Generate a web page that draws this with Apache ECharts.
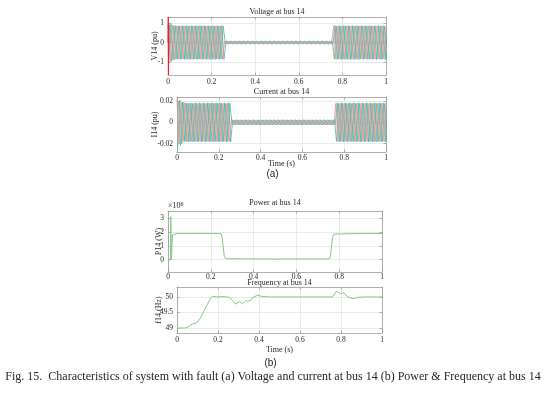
<!DOCTYPE html>
<html>
<head>
<meta charset="utf-8">
<script src="https://cdn.jsdelivr.net/npm/echarts@6/dist/echarts.min.js"></script>
<style>
html,body{margin:0;padding:0;background:#fff;}
#chart{width:544px;height:394px;}
</style>
</head>
<body>
<div id="chart"></div>
<script>
// ---------- DATA ----------
const timeTicks = [0, 0.2, 0.4, 0.6, 0.8, 1];
const timeTickLabels = ['0', '0.2', '0.4', '0.6', '0.8', '1'];

const voltTicks = [-1, 0, 1];
const voltTickLabels = ['-1', '0', '1'];
const currTicks = [-0.02, 0, 0.02];
const currTickLabels = ['-0.02', '0', '0.02'];
const powerTicks = [0, 1, 2, 3];
const powerTickLabels = ['0', '1', '2', '3'];
const freqTicks = [49, 49.5, 50];
const freqTickLabels = ['49', '49.5', '50'];

// sampling grid of the three-phase waveforms: one peak every half cycle (50 Hz)
const halfCycle = 0.01;
const phaseOffsets = [0, 1 / 300, 2 / 300];

// voltage peaks per half cycle (pu), 101 per phase (t = 0 ... 1 s)
const voltA = [
  0.95,-1.00,0.90,-0.87,0.85,-0.85,0.85,-0.85,0.85,-0.85,
  0.85,-0.85,0.85,-0.85,0.85,-0.85,0.85,-0.85,0.85,-0.85,
  0.85,-0.85,0.85,-0.85,0.85,-0.85,
  0.08,-0.08,0.08,-0.08,0.08,-0.08,0.08,-0.08,0.08,-0.08,
  0.08,-0.08,0.08,-0.08,0.08,-0.08,0.08,-0.08,0.08,-0.08,
  0.08,-0.08,0.08,-0.08,0.08,-0.08,0.08,-0.08,0.08,-0.08,
  0.08,-0.08,0.08,-0.08,0.08,-0.08,0.08,-0.08,0.08,-0.08,
  0.08,-0.08,0.08,-0.08,0.08,-0.08,0.08,-0.08,0.08,-0.08,
  0.85,-0.85,0.85,-0.85,0.85,-0.85,0.85,-0.85,0.85,-0.85,
  0.85,-0.85,0.85,-0.85,0.85,-0.85,0.85,-0.85,0.85,-0.85,
  0.85,-0.85,0.85,-0.85,0.85
];
const voltB = [
  -0.92,0.98,-0.88,0.86,-0.84,0.84,-0.84,0.84,-0.84,0.84,
  -0.84,0.84,-0.84,0.84,-0.84,0.84,-0.84,0.84,-0.84,0.84,
  -0.84,0.84,-0.84,0.84,-0.84,0.84,
  -0.07,0.07,-0.07,0.07,-0.07,0.07,-0.07,0.07,-0.07,0.07,
  -0.07,0.07,-0.07,0.07,-0.07,0.07,-0.07,0.07,-0.07,0.07,
  -0.07,0.07,-0.07,0.07,-0.07,0.07,-0.07,0.07,-0.07,0.07,
  -0.07,0.07,-0.07,0.07,-0.07,0.07,-0.07,0.07,-0.07,0.07,
  -0.07,0.07,-0.07,0.07,-0.07,0.07,-0.07,0.07,-0.07,0.07,
  -0.84,0.84,-0.84,0.84,-0.84,0.84,-0.84,0.84,-0.84,0.84,
  -0.84,0.84,-0.84,0.84,-0.84,0.84,-0.84,0.84,-0.84,0.84,
  -0.84,0.84,-0.84,0.84,-0.84
];
const voltC = [
  0.90,-0.95,0.86,-0.85,0.86,-0.86,0.86,-0.86,0.86,-0.86,
  0.86,-0.86,0.86,-0.86,0.86,-0.86,0.86,-0.86,0.86,-0.86,
  0.86,-0.86,0.86,-0.86,0.86,-0.86,
  0.09,-0.09,0.09,-0.09,0.09,-0.09,0.09,-0.09,0.09,-0.09,
  0.09,-0.09,0.09,-0.09,0.09,-0.09,0.09,-0.09,0.09,-0.09,
  0.09,-0.09,0.09,-0.09,0.09,-0.09,0.09,-0.09,0.09,-0.09,
  0.09,-0.09,0.09,-0.09,0.09,-0.09,0.09,-0.09,0.09,-0.09,
  0.09,-0.09,0.09,-0.09,0.09,-0.09,0.09,-0.09,0.09,-0.09,
  0.86,-0.86,0.86,-0.86,0.86,-0.86,0.86,-0.86,0.86,-0.86,
  0.86,-0.86,0.86,-0.86,0.86,-0.86,0.86,-0.86,0.86,-0.86,
  0.86,-0.86,0.86,-0.86,0.86
];
// switching transient at t = 0
const voltSpikeT = [0, 0.001, 0.002, 0.003, 0.004];
const voltSpikeV = [0, 1.30, -1.65, 0.95, 0];

// current peaks per half cycle (pu), 101 per phase
const currA = [
  0.022,-0.020,0.019,-0.018,0.018,-0.018,0.018,-0.018,0.018,-0.018,
  0.018,-0.018,0.018,-0.018,0.018,-0.018,0.018,-0.018,0.018,-0.018,
  0.018,-0.018,0.018,-0.018,0.018,-0.018,
  0.0024,-0.0024,0.0024,-0.0024,0.0024,-0.0024,0.0024,-0.0024,0.0024,-0.0024,
  0.0024,-0.0024,0.0024,-0.0024,0.0024,-0.0024,0.0024,-0.0024,0.0024,-0.0024,
  0.0024,-0.0024,0.0024,-0.0024,0.0024,-0.0024,0.0024,-0.0024,0.0024,-0.0024,
  0.0024,-0.0024,0.0024,-0.0024,0.0024,-0.0024,0.0024,-0.0024,0.0024,-0.0024,
  0.0024,-0.0024,0.0024,-0.0024,0.0024,-0.0024,0.0024,-0.0024,0.0024,-0.0024,
  0.018,-0.018,0.018,-0.018,0.018,-0.018,0.018,-0.018,0.018,-0.018,
  0.018,-0.018,0.018,-0.018,0.018,-0.018,0.018,-0.018,0.018,-0.018,
  0.018,-0.018,0.018,-0.018,0.018
];
const currB = [
  -0.024,0.021,-0.020,0.019,-0.018,0.018,-0.018,0.018,-0.018,0.018,
  -0.018,0.018,-0.018,0.018,-0.018,0.018,-0.018,0.018,-0.018,0.018,
  -0.018,0.018,-0.018,0.018,-0.018,0.018,
  -0.0022,0.0022,-0.0022,0.0022,-0.0022,0.0022,-0.0022,0.0022,-0.0022,0.0022,
  -0.0022,0.0022,-0.0022,0.0022,-0.0022,0.0022,-0.0022,0.0022,-0.0022,0.0022,
  -0.0022,0.0022,-0.0022,0.0022,-0.0022,0.0022,-0.0022,0.0022,-0.0022,0.0022,
  -0.0022,0.0022,-0.0022,0.0022,-0.0022,0.0022,-0.0022,0.0022,-0.0022,0.0022,
  -0.0022,0.0022,-0.0022,0.0022,-0.0022,0.0022,-0.0022,0.0022,-0.0022,0.0022,
  -0.018,0.018,-0.018,0.018,-0.018,0.018,-0.018,0.018,-0.018,0.018,
  -0.018,0.018,-0.018,0.018,-0.018,0.018,-0.018,0.018,-0.018,0.018,
  -0.018,0.018,-0.018,0.018,-0.018
];
const currC = [
  0.020,-0.022,0.019,-0.018,0.0185,-0.0185,0.0185,-0.0185,0.0185,-0.0185,
  0.0185,-0.0185,0.0185,-0.0185,0.0185,-0.0185,0.0185,-0.0185,0.0185,-0.0185,
  0.0185,-0.0185,0.0185,-0.0185,0.0185,-0.0185,
  0.0025,-0.0025,0.0025,-0.0025,0.0025,-0.0025,0.0025,-0.0025,0.0025,-0.0025,
  0.0025,-0.0025,0.0025,-0.0025,0.0025,-0.0025,0.0025,-0.0025,0.0025,-0.0025,
  0.0025,-0.0025,0.0025,-0.0025,0.0025,-0.0025,0.0025,-0.0025,0.0025,-0.0025,
  0.0025,-0.0025,0.0025,-0.0025,0.0025,-0.0025,0.0025,-0.0025,0.0025,-0.0025,
  0.0025,-0.0025,0.0025,-0.0025,0.0025,-0.0025,0.0025,-0.0025,0.0025,-0.0025,
  0.0185,-0.0185,0.0185,-0.0185,0.0185,-0.0185,0.0185,-0.0185,0.0185,-0.0185,
  0.0185,-0.0185,0.0185,-0.0185,0.0185,-0.0185,0.0185,-0.0185,0.0185,-0.0185,
  0.0185,-0.0185,0.0185,-0.0185,0.0185
];

// power (x10^6 W)
const powerT = [0, 0.012, 0.013, 0.015, 0.016, 0.019, 0.021, 0.026, 0.04, 0.1, 0.248, 0.253, 0.258, 0.263, 0.268, 0.275, 0.5, 0.755, 0.759, 0.764, 0.769, 0.774, 0.779, 0.9, 1];
const powerV = [0, 0, 3.10, 3.05, 0, 0, 1.78, 1.84, 1.88, 1.88, 1.88, 1.60, 0.90, 0.25, 0.08, 0.05, 0.05, 0.06, 0.25, 0.95, 1.60, 1.84, 1.88, 1.88, 1.88];

// frequency (Hz)
const freqT = [0, 0.037, 0.042, 0.05, 0.059, 0.075, 0.094, 0.114, 0.143, 0.163, 0.172, 0.2, 0.23, 0.257, 0.27, 0.285, 0.293, 0.306, 0.319, 0.335, 0.346, 0.363, 0.374, 0.395, 0.411, 0.45, 0.6, 0.758, 0.777, 0.79, 0.803, 0.813, 0.834, 0.859, 0.883, 0.92, 1];
const freqV = [49.0, 49.0, 49.05, 49.02, 48.99, 49.13, 49.16, 49.32, 49.70, 49.94, 50.02, 50.0, 50.01, 49.99, 49.89, 49.77, 49.77, 49.85, 49.78, 49.88, 49.86, 49.91, 50.0, 50.06, 50.02, 50.0, 50.0, 50.0, 50.18, 50.13, 50.11, 50.13, 50.0, 49.94, 49.99, 50.0, 50.0];

// ---------- CHART ----------
const chart = echarts.init(document.getElementById('chart'), null, {renderer: 'canvas'});
const FONT = 'Liberation Serif';
const TXT = '#262626';
const BOX = '#9a9a9a';
const GRIDC = '#e6e6e6';
const FS = 7.5;

const grids = [
  {left: 168, top: 17, width: 218, height: 58},
  {left: 177, top: 97, width: 209, height: 55},
  {left: 168, top: 211, width: 214, height: 61},
  {left: 177, top: 287, width: 205, height: 46}
];
const yCfg = [
  {min: -1.65, max: 1.3, ticks: voltTicks, labels: voltTickLabels, name: 'V14 (pu)', gap: 9.5, xm: 3},
  {min: -0.028, max: 0.024, ticks: currTicks, labels: currTickLabels, name: 'I14 (pu)', gap: 18.5, xm: 2},
  {min: -0.88, max: 3.5, ticks: powerTicks, labels: powerTickLabels, name: 'P14 (W)', gap: 5.5, xm: 1},
  {min: 48.84, max: 50.32, ticks: freqTicks, labels: freqTickLabels, name: 'f14 (Hz)', gap: 14, xm: 3}
];

const xAxes = [], yAxes = [];
grids.forEach((g, i) => {
  const c = yCfg[i];
  xAxes.push({
    type: 'value', gridIndex: i, min: 0, max: 1, interval: 0.2, position: 'bottom',
    axisLine: {show: true, onZero: false, lineStyle: {color: BOX, width: 0.8}},
    axisTick: {show: true, inside: true, length: 2.5, lineStyle: {color: BOX, width: 0.8}},
    axisLabel: {show: true, margin: c.xm, fontFamily: FONT, fontSize: FS, color: TXT,
      formatter: v => { const k = timeTicks.findIndex(t => Math.abs(t - v) < 1e-6); return k >= 0 ? timeTickLabels[k] : ''; }},
    splitLine: {show: true, lineStyle: {color: GRIDC, width: 0.8}}
  });
  xAxes.push({
    type: 'value', gridIndex: i, min: 0, max: 1, interval: 0.2, position: 'top',
    axisLine: {show: true, onZero: false, lineStyle: {color: BOX, width: 0.8}},
    axisTick: {show: true, inside: true, length: 2.5, lineStyle: {color: BOX, width: 0.8}},
    axisLabel: {show: false}, splitLine: {show: false}
  });
  yAxes.push({
    type: 'value', gridIndex: i, min: c.min, max: c.max, position: 'left',
    name: c.name, nameLocation: 'middle', nameGap: c.gap, nameMoveOverlap: false,
    nameTextStyle: {fontFamily: FONT, fontSize: 8, color: TXT},
    axisLine: {show: true, onZero: false, lineStyle: {color: BOX, width: 0.8}},
    axisTick: {show: true, inside: true, length: 2.5, customValues: c.ticks, lineStyle: {color: BOX, width: 0.8}},
    axisLabel: {show: true, margin: 4, fontFamily: FONT, fontSize: FS, color: TXT, customValues: c.ticks,
      formatter: v => { const k = c.ticks.findIndex(t => Math.abs(t - v) < 1e-9); return k >= 0 ? c.labels[k] : ''; }},
    splitLine: {show: true, lineStyle: {color: GRIDC, width: 0.8}}
  });
  yAxes.push({
    type: 'value', gridIndex: i, min: c.min, max: c.max, position: 'right',
    axisLine: {show: true, onZero: false, lineStyle: {color: BOX, width: 0.8}},
    axisTick: {show: true, inside: true, length: 2.5, customValues: c.ticks, lineStyle: {color: BOX, width: 0.8}},
    axisLabel: {show: false}, splitLine: {show: false}
  });
});

function wave(values, offset) {
  return values.map((v, k) => [k * halfCycle + offset, v]);
}
function pairs(ts, vs) { return ts.map((t, k) => [t, vs[k]]); }

const phaseColors = ['#f08c94', '#52bd84', '#47aec6'];
function waveSeries(values, phase, gi, color) {
  return {
    type: 'line', xAxisIndex: gi * 2, yAxisIndex: gi * 2, data: wave(values, phaseOffsets[phase]),
    showSymbol: false, symbol: 'none',
    lineStyle: {color: color, width: 0.8}, silent: true, animation: false
  };
}

const series = [
  waveSeries(voltC, 2, 0, phaseColors[2]),
  waveSeries(voltB, 1, 0, phaseColors[1]),
  waveSeries(voltA, 0, 0, phaseColors[0]),
  {type: 'line', xAxisIndex: 0, yAxisIndex: 0, data: pairs(voltSpikeT, voltSpikeV), symbol: 'none',
   lineStyle: {color: '#e02424', width: 1.2}, animation: false},
  waveSeries(currC, 2, 1, phaseColors[2]),
  waveSeries(currB, 1, 1, phaseColors[1]),
  waveSeries(currA, 0, 1, phaseColors[0]),
  {type: 'line', xAxisIndex: 4, yAxisIndex: 4, data: pairs(powerT, powerV), symbol: 'none',
   lineStyle: {color: '#86c986', width: 1}, animation: false},
  {type: 'line', xAxisIndex: 6, yAxisIndex: 6, data: pairs(freqT, freqV), symbol: 'none',
   lineStyle: {color: '#86c986', width: 1}, animation: false}
];

function txt(x, y, s, size, family) {
  return {type: 'text', x: x, y: y, silent: true,
    style: {text: s, fontFamily: family || FONT, fontSize: size, fill: TXT, textAlign: 'center', textVerticalAlign: 'middle'}};
}

const option = {
  backgroundColor: '#ffffff',
  animation: false,
  grid: grids.map(g => Object.assign({show: false, containLabel: false}, g)),
  xAxis: xAxes,
  yAxis: yAxes,
  series: series,
  graphic: [
    txt(277, 12, 'Voltage at bus 14', 8),
    txt(281.5, 92, 'Current at bus 14', 8),
    txt(281.5, 164, 'Time (s)', 8),
    txt(272.5, 174.5, '(a)', 10, 'Liberation Sans'),
    txt(275, 202.5, 'Power at bus 14', 8),
    {type: 'text', x: 168, y: 206, silent: true, style: {
      text: '{a|×10}{b|6}', fontFamily: FONT, fontSize: 8, fill: TXT, textAlign: 'left', textVerticalAlign: 'middle',
      rich: {a: {fontFamily: FONT, fontSize: 8, fill: TXT}, b: {fontFamily: FONT, fontSize: 6, fill: TXT, verticalAlign: 'top', padding: [0,0,4,0]}}}},
    txt(279.5, 283, 'Frequency at bus 14', 8),
    txt(279.5, 349.5, 'Time (s)', 8),
    txt(270.5, 363, '(b)', 10, 'Liberation Sans'),
    txt(273, 377, 'Fig. 15.  Characteristics of system with fault (a) Voltage and current at bus 14 (b) Power & Frequency at bus 14', 12)
  ]
};
chart.setOption(option);
</script>
</body>
</html>
